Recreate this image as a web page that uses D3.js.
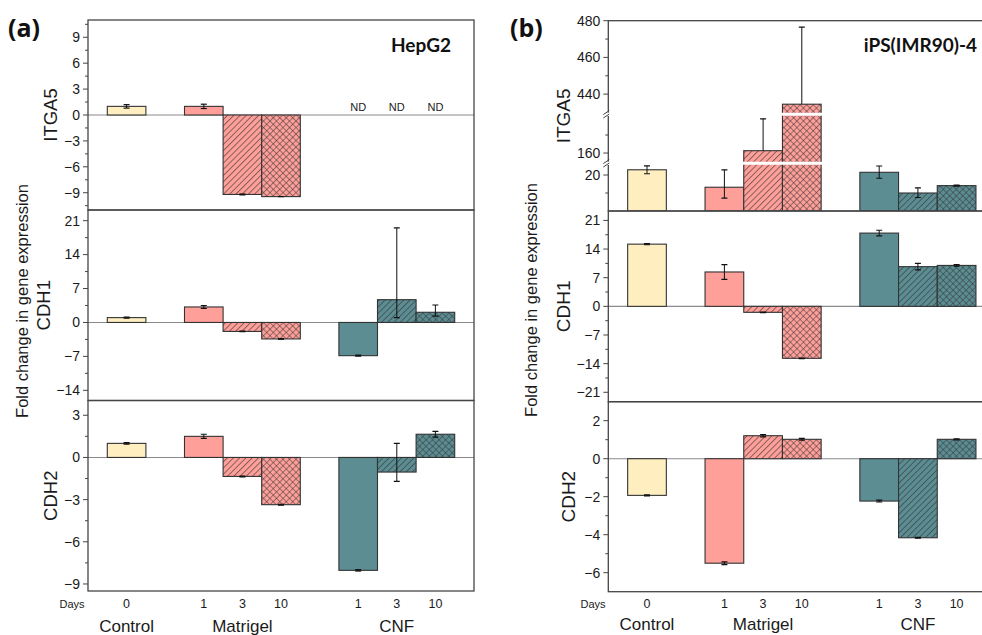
<!DOCTYPE html>
<html><head><meta charset="utf-8">
<script src="https://cdn.jsdelivr.net/npm/d3@7/dist/d3.min.js"></script>
<style>
html,body{margin:0;padding:0;background:#fff;}
svg{display:block;}
</style></head>
<body>
<svg id="chart" width="982" height="635" font-family="'Liberation Sans', Arimo, Arial, Helvetica, sans-serif"></svg>
<script>
// ---------- DATA ----------
const barKeys   = ["Control-0","Matrigel-1","Matrigel-3","Matrigel-10","CNF-1","CNF-3","CNF-10"];
const bandKeys  = ["Control-0","gap1","Matrigel-1","Matrigel-3","Matrigel-10","gap2","CNF-1","CNF-3","CNF-10"];
const groupNames = ["Control","Matrigel","CNF"];
const dayLabels  = ["0","1","3","10","1","3","10"];
const genes      = ["ITGA5","CDH1","CDH2"];

// HepG2 (panel a)
const hepITGA5    = [1.0, 1.0, -9.2, -9.45, null, null, null];
const hepITGA5Lo  = [0.2, 0.25, 0.05, 0.0, 0, 0, 0];
const hepITGA5Hi  = [0.2, 0.25, 0.05, 0.0, 0, 0, 0];
const hepCDH1     = [1.0, 3.2, -1.85, -3.4, -6.85, 4.7, 2.1];
const hepCDH1Lo   = [0.1, 0.3, 0.05, 0.05, 0.1, 3.7, 0.8];
const hepCDH1Hi   = [0.1, 0.3, 0.05, 0.05, 0.1, 14.8, 1.5];
const hepCDH2     = [1.0, 1.5, -1.35, -3.36, -8.03, -1.04, 1.65];
const hepCDH2Lo   = [0.06, 0.15, 0.03, 0.03, 0.05, 0.66, 0.2];
const hepCDH2Hi   = [0.06, 0.15, 0.03, 0.03, 0.05, 2.04, 0.2];

// iPS(IMR90)-4 (panel b)
const ipsITGA5    = [22.9, 13.2, 161.3, 434.5, 21.5, 10.0, 14.1];
const ipsITGA5Lo  = [2.2, 6.0, 0, 0, 3.3, 2.5, 0.3];
const ipsITGA5Hi  = [2.2, 9.6, 17.7, 42.0, 3.5, 2.9, 0.3];
const ipsCDH1     = [15.2, 8.4, -1.46, -12.7, 17.9, 9.7, 10.0];
const ipsCDH1Lo   = [0.15, 1.8, 0.05, 0.05, 0.7, 0.8, 0.2];
const ipsCDH1Hi   = [0.15, 1.8, 0.05, 0.05, 0.7, 0.8, 0.2];
const ipsCDH2     = [-1.93, -5.5, 1.21, 1.02, -2.23, -4.16, 1.02];
const ipsCDH2Lo   = [0.03, 0.07, 0.06, 0.05, 0.05, 0.02, 0.03];
const ipsCDH2Hi   = [0.03, 0.07, 0.06, 0.05, 0.05, 0.02, 0.03];

// tick values
const hepITGA5Ticks = [-9,-6,-3,0,3,6,9];
const hepCDH1Ticks  = [-14,-7,0,7,14,21];
const hepCDH2Ticks  = [-9,-6,-3,0,3];
const ipsITGA5Ticks = [20,160,440,460,480];
const ipsCDH1Ticks  = [-21,-14,-7,0,7,14,21];
const ipsCDH2Ticks  = [-6,-4,-2,0,2];
const ndLabel = "ND";

// ---------- STYLE / LAYOUT ----------
const FONT = "'Liberation Sans', Arimo, Arial, Helvetica, sans-serif";
const colors = {Control:"#FEEEC0", Matrigel:"#FF9F9A", CNF:"#5B8D93"};
const svg = d3.select("#chart");
const defs = svg.append("defs");

function makePatterns(name, color){
  const p1 = defs.append("pattern").attr("id","diag-"+name).attr("patternUnits","userSpaceOnUse")
    .attr("width",4.4).attr("height",4.4).attr("patternTransform","rotate(45)");
  p1.append("rect").attr("width",4.4).attr("height",4.4).attr("fill",color);
  p1.append("line").attr("x1",0.5).attr("y1",0).attr("x2",0.5).attr("y2",4.4).attr("stroke","#333").attr("stroke-width",0.7).attr("stroke-opacity",0.85);
  const p2 = defs.append("pattern").attr("id","cross-"+name).attr("patternUnits","userSpaceOnUse")
    .attr("width",4.6).attr("height",4.6).attr("patternTransform","rotate(45)");
  p2.append("rect").attr("width",4.6).attr("height",4.6).attr("fill",color);
  p2.append("line").attr("x1",0.5).attr("y1",0).attr("x2",0.5).attr("y2",4.6).attr("stroke","#333").attr("stroke-width",0.6).attr("stroke-opacity",0.85);
  p2.append("line").attr("x1",0).attr("y1",0.5).attr("x2",4.6).attr("y2",0.5).attr("stroke","#333").attr("stroke-width",0.6).attr("stroke-opacity",0.85);
}
makePatterns("Matrigel", colors.Matrigel);
makePatterns("CNF", colors.CNF);

function fillFor(key){
  const [g, d] = key.split("-");
  if (g === "Control" || d === "1") return colors[g];
  return d === "3" ? "url(#diag-"+g+")" : "url(#cross-"+g+")";
}

const frameColor = "#454545";
const textColor = "#1a1a1a";

function txt(sel){ return sel.append("text").attr("font-family", FONT).attr("fill", textColor); }

function drawPanel(cfg){
  const x = d3.scaleBand().domain(bandKeys).range([cfg.left, cfg.right]).paddingOuter(0.5).paddingInner(0);
  const g = svg.append("g");
  cfg.rows.forEach((row, ri) => {
    const [top, bottom] = row.range;
    const clipId = "clip-"+cfg.id+ri;
    defs.append("clipPath").attr("id", clipId).append("rect")
      .attr("x", cfg.left).attr("y", top).attr("width", cfg.right-cfg.left).attr("height", bottom-top);
    const rg = g.append("g");
    const plot = rg.append("g").attr("clip-path","url(#"+clipId+")");
    const y = row.yFn;
    if (row.zeroLine){
      plot.append("line").attr("x1",cfg.left).attr("x2",cfg.right).attr("y1",y(0)).attr("y2",y(0))
        .attr("stroke","#8a8a8a").attr("stroke-width",1.1);
    }
    const data = barKeys.map((k,i)=>({k, v:row.values[i], lo:row.lo[i], hi:row.hi[i]})).filter(d=>d.v!==null);
    plot.selectAll("rect.bar").data(data).join("rect").attr("class","bar")
      .attr("x", d=>x(d.k)).attr("width", x.bandwidth())
      .attr("y", d=>Math.min(y(d.v), y(0))).attr("height", d=>Math.abs(y(d.v)-y(0)))
      .attr("fill", d=>fillFor(d.k)).attr("stroke","#333").attr("stroke-width",1.1);
    (row.breaks||[]).forEach(by=>{
      plot.append("line").attr("x1",cfg.left).attr("x2",cfg.right).attr("y1",by).attr("y2",by)
        .attr("stroke","#fff").attr("stroke-width",3);
    });
    const eb = plot.selectAll("g.eb").data(data).join("g").attr("class","eb");
    eb.append("line").attr("x1",d=>x(d.k)+x.bandwidth()/2).attr("x2",d=>x(d.k)+x.bandwidth()/2)
      .attr("y1",d=>y(d.v-d.lo)).attr("y2",d=>y(d.v+d.hi)).attr("stroke","#111").attr("stroke-width",1);
    eb.append("line").attr("x1",d=>x(d.k)+x.bandwidth()/2-3).attr("x2",d=>x(d.k)+x.bandwidth()/2+3)
      .attr("y1",d=>y(d.v+d.hi)).attr("y2",d=>y(d.v+d.hi)).attr("stroke","#111").attr("stroke-width",1.2);
    eb.filter(d=>d.lo>0).append("line").attr("x1",d=>x(d.k)+x.bandwidth()/2-3).attr("x2",d=>x(d.k)+x.bandwidth()/2+3)
      .attr("y1",d=>y(d.v-d.lo)).attr("y2",d=>y(d.v-d.lo)).attr("stroke","#111").attr("stroke-width",1.2);
    barKeys.forEach((k,i)=>{
      if (row.values[i]===null){
        txt(rg).attr("x", x(k)+x.bandwidth()/2).attr("y", y(0)-4).attr("text-anchor","middle")
          .attr("font-size",11).text(ndLabel);
      }
    });
    row.ticks.forEach(t=>{
      const ty = y(t);
      rg.append("line").attr("x1",cfg.left-5).attr("x2",cfg.left).attr("y1",ty).attr("y2",ty).attr("stroke",frameColor).attr("stroke-width",1);
      txt(rg).attr("x",cfg.left-8).attr("y",ty).attr("dy","0.35em").attr("text-anchor","end")
        .attr("font-size",14).text(String(t).replace("-","\u2212"));
    });
    row.minor.forEach(t=>{
      const ty = y(t);
      rg.append("line").attr("x1",cfg.left-3).attr("x2",cfg.left).attr("y1",ty).attr("y2",ty).attr("stroke",frameColor).attr("stroke-width",1);
    });
    rg.append("rect").attr("x",cfg.left).attr("y",top).attr("width",cfg.right-cfg.left).attr("height",bottom-top)
      .attr("fill","none").attr("stroke",frameColor).attr("stroke-width",1.3);
    (row.breaks||[]).forEach(by=>{
      rg.append("rect").attr("x",cfg.left-4).attr("y",by-1.6).attr("width",8).attr("height",3.2).attr("fill","#fff");
      [-1.7,1.7].forEach(o=>{
        rg.append("line").attr("x1",cfg.left-5).attr("x2",cfg.left+1).attr("y1",by+o+2).attr("y2",by+o-2)
          .attr("stroke",frameColor).attr("stroke-width",1);
      });
    });
    txt(rg).attr("transform",`translate(${row.labelX},${(top+bottom)/2}) rotate(-90)`)
      .attr("text-anchor","middle").attr("dy","0.35em").attr("font-size",cfg.geneSize).text(genes[ri]);
  });
  txt(g).attr("x",cfg.daysX).attr("y",608).attr("text-anchor","middle").attr("font-size",11).text("Days");
  barKeys.forEach((k,i)=>{
    txt(g).attr("x",x(k)+x.bandwidth()/2).attr("y",608).attr("text-anchor","middle").attr("font-size",12.5).text(dayLabels[i]);
  });
  groupNames.forEach(gn=>{
    const ks = barKeys.filter(k=>k.startsWith(gn+"-"));
    const cx = (x(ks[0]) + x(ks[ks.length-1]) + x.bandwidth())/2;
    txt(g).attr("x",cx).attr("y",cfg.groupY).attr("text-anchor","middle").attr("font-size",17).text(gn);
  });
  txt(g).attr("transform",`translate(${cfg.titleX},${cfg.titleY}) rotate(-90)`)
    .attr("text-anchor","middle").attr("dy","0.35em").attr("font-size",16.5).text("Fold change in gene expression");
  g.append("text").attr("x",cfg.letterX).attr("y",37).attr("font-size",25).attr("font-weight","bold")
    .attr("font-family","'Open Sans',sans-serif").attr("fill","#111").text(cfg.letter);
  g.append("text").attr("x",cfg.nameX).attr("y",52).attr("text-anchor","end").attr("font-size",19).attr("font-weight","bold")
    .attr("font-family","Lato,sans-serif").attr("fill","#111").text(cfg.name);
}

function minorBetween(ticks, dom){
  const step = ticks[1]-ticks[0];
  const out = [];
  for (let v = ticks[0]-step*3; v <= ticks[ticks.length-1]+step*3; v += step){
    const m = v + step/2;
    if (m > dom[0] && m < dom[1]) out.push(m);
  }
  return out;
}

// Panel (a)
const aRows = [[20,210],[210,400.5],[400.5,591]];
const yA1 = d3.scaleLinear().domain([-11,11]).range([aRows[0][1],aRows[0][0]]);
const yA2 = d3.scaleLinear().domain([-16.1,23.2]).range([aRows[1][1],aRows[1][0]]);
const yA3 = d3.scaleLinear().domain([-9.5,4.05]).range([aRows[2][1],aRows[2][0]]);
drawPanel({
  id:"a", left:88, right:474, letter:"(a)", letterX:8, name:"HepG2", nameX:451,
  daysX:72, groupY:632, titleX:22, titleY:301, geneSize:18.5,
  rows:[
    {range:aRows[0], yFn:yA1, values:hepITGA5, lo:hepITGA5Lo, hi:hepITGA5Hi, ticks:hepITGA5Ticks, minor:minorBetween(hepITGA5Ticks,[-11,11]), zeroLine:true, labelX:51},
    {range:aRows[1], yFn:yA2, values:hepCDH1, lo:hepCDH1Lo, hi:hepCDH1Hi, ticks:hepCDH1Ticks, minor:minorBetween(hepCDH1Ticks,[-16.1,23.2]), zeroLine:true, labelX:44},
    {range:aRows[2], yFn:yA3, values:hepCDH2, lo:hepCDH2Lo, hi:hepCDH2Hi, ticks:hepCDH2Ticks, minor:minorBetween(hepCDH2Ticks,[-9.5,4.05]), zeroLine:true, labelX:51}
  ]
});

// Panel (b) with broken ITGA5 axis
const bRows = [[20.7,211],[211,401.7],[401.7,591.7]];
const brkLow = 163.3, brkHigh = 114.3;
const yBlow = d3.scaleLinear().domain([0,26.5]).range([bRows[0][1], brkLow]);
const yBmid = d3.scaleLinear().domain([154.3,181.5]).range([brkLow, brkHigh]);
const yBup  = d3.scaleLinear().domain([429,480]).range([brkHigh, bRows[0][0]]);
function yB1(v){ return v <= 26.5 ? yBlow(v) : (v <= 181.5 ? yBmid(v) : yBup(v)); }
const yB2 = d3.scaleLinear().domain([-23.3,23.3]).range([bRows[1][1],bRows[1][0]]);
const yB3 = d3.scaleLinear().domain([-7,3]).range([bRows[2][1],bRows[2][0]]);
drawPanel({
  id:"b", left:608.3, right:995.3, letter:"(b)", letterX:510, name:"iPS(IMR90)-4", nameX:977,
  daysX:593, groupY:630, titleX:531, titleY:300, geneSize:19,
  rows:[
    {range:bRows[0], yFn:yB1, values:ipsITGA5, lo:ipsITGA5Lo, hi:ipsITGA5Hi, ticks:ipsITGA5Ticks, minor:[10,170,450,470], zeroLine:false, breaks:[brkLow,brkHigh], labelX:563},
    {range:bRows[1], yFn:yB2, values:ipsCDH1, lo:ipsCDH1Lo, hi:ipsCDH1Hi, ticks:ipsCDH1Ticks, minor:minorBetween(ipsCDH1Ticks,[-23.3,23.3]), zeroLine:true, labelX:563},
    {range:bRows[2], yFn:yB3, values:ipsCDH2, lo:ipsCDH2Lo, hi:ipsCDH2Hi, ticks:ipsCDH2Ticks, minor:minorBetween(ipsCDH2Ticks,[-7,3]), zeroLine:true, labelX:568}
  ]
});
</script>
</body></html>
